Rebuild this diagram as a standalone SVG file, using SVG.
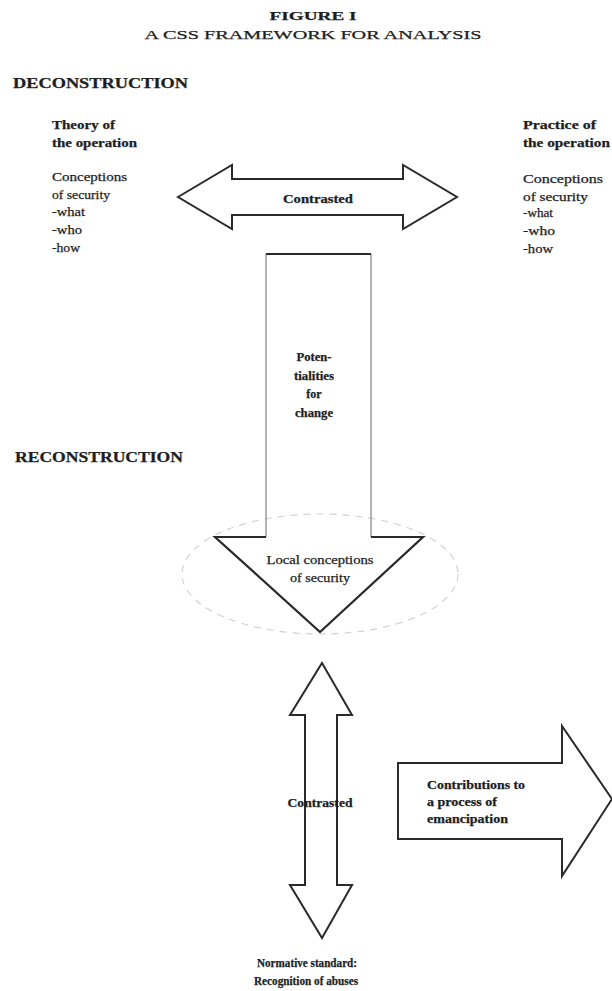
<svg xmlns="http://www.w3.org/2000/svg" width="612" height="991" viewBox="0 0 612 991">
<style>
text{font-family:"Liberation Serif","DejaVu Serif",serif;fill:#1e1e1e;stroke:#1e1e1e;stroke-width:0.25}
.title{font-size:13px;text-anchor:middle}
.sec{font-size:14px;font-weight:bold}
.hd{font-size:13px;font-weight:bold}
.tx{font-size:12.5px}
.lbl{font-size:12px;text-anchor:middle}
.b{font-weight:bold}
.arrow{fill:#fff;stroke:#2a2a2a;stroke-width:2;stroke-linejoin:miter}
.faint{fill:none;stroke:#8a8a8a;stroke-width:1.3}
.dark{fill:none;stroke:#2a2a2a;stroke-width:2.2;stroke-linejoin:miter}
</style>
<rect width="612" height="991" fill="#fff"/>
<g id="title">
<text class="title b" x="313" y="20" textLength="87" lengthAdjust="spacingAndGlyphs">FIGURE I</text>
<text class="title" x="313" y="39" textLength="337" lengthAdjust="spacingAndGlyphs">A CSS FRAMEWORK FOR ANALYSIS</text>
</g>
<g id="deconstruction">
<text class="sec" x="13" y="88" textLength="175" lengthAdjust="spacingAndGlyphs">DECONSTRUCTION</text>
</g>
<g id="reconstruction">
<text class="sec" x="15" y="462" textLength="168" lengthAdjust="spacingAndGlyphs">RECONSTRUCTION</text>
</g>
<g id="theory">
<text class="hd" x="52" y="129" textLength="63" lengthAdjust="spacingAndGlyphs">Theory of</text>
<text class="hd" x="52" y="147" textLength="85" lengthAdjust="spacingAndGlyphs">the operation</text>
<text class="tx" x="52" y="181" textLength="75" lengthAdjust="spacingAndGlyphs">Conceptions</text>
<text class="tx" x="52" y="199" textLength="58" lengthAdjust="spacingAndGlyphs">of security</text>
<text class="tx" x="52" y="216" textLength="33" lengthAdjust="spacingAndGlyphs">-what</text>
<text class="tx" x="52" y="234" textLength="30" lengthAdjust="spacingAndGlyphs">-who</text>
<text class="tx" x="52" y="252" textLength="28" lengthAdjust="spacingAndGlyphs">-how</text>
</g>
<g id="practice">
<text class="hd" x="523" y="129" textLength="73" lengthAdjust="spacingAndGlyphs">Practice of</text>
<text class="hd" x="523" y="147" textLength="87" lengthAdjust="spacingAndGlyphs">the operation</text>
<text class="tx" x="523" y="183" textLength="80" lengthAdjust="spacingAndGlyphs">Conceptions</text>
<text class="tx" x="523" y="201" textLength="65" lengthAdjust="spacingAndGlyphs">of security</text>
<text class="tx" x="523" y="217" textLength="30" lengthAdjust="spacingAndGlyphs">-what</text>
<text class="tx" x="523" y="235" textLength="32" lengthAdjust="spacingAndGlyphs">-who</text>
<text class="tx" x="523" y="253" textLength="30" lengthAdjust="spacingAndGlyphs">-how</text>
</g>
<g id="connectors">
<g id="contrasted-top">
<polygon class="arrow" points="178,197 232,165 232,179 403,179 403,165 457,197 403,229 403,215 232,215 232,229"/>
<text class="lbl b" x="318" y="203" textLength="70" lengthAdjust="spacingAndGlyphs">Contrasted</text>
</g>
<g id="potentialities">
<ellipse cx="320" cy="574" rx="138" ry="60" fill="none" stroke="#d2d2d2" stroke-width="1.2" stroke-dasharray="7 6"/>
<polyline class="faint" points="266,254 266,537"/>
<polyline class="faint" points="371,254 371,537"/>
<polyline class="dark" points="266,254 371,254"/>
<polyline class="dark" points="266,537 215,537 320,632 423,537 371,537"/>
<text class="lbl b" x="314" y="361" textLength="35" lengthAdjust="spacingAndGlyphs">Poten-</text>
<text class="lbl b" x="314" y="380" textLength="40" lengthAdjust="spacingAndGlyphs">tialities</text>
<text class="lbl b" x="314" y="398">for</text>
<text class="lbl b" x="314" y="417" textLength="38" lengthAdjust="spacingAndGlyphs">change</text>
<text class="lbl" x="320" y="564" textLength="107" lengthAdjust="spacingAndGlyphs">Local conceptions</text>
<text class="lbl" x="320" y="582" textLength="60" lengthAdjust="spacingAndGlyphs">of security</text>
</g>
<g id="contrasted-vertical">
<polygon class="arrow" points="322,663 352,715 337,715 337,885 352,885 322,938 290,885 305,885 305,715 290,715"/>
<text class="lbl b" x="320" y="807" textLength="65" lengthAdjust="spacingAndGlyphs">Contrasted</text>
</g>
<g id="contributions">
<polygon class="arrow" points="398,763 562,763 562,726 612,799 562,876 562,839 398,839"/>
<text class="tx b" x="427" y="789" textLength="98" lengthAdjust="spacingAndGlyphs">Contributions to</text>
<text class="tx b" x="427" y="806" textLength="70" lengthAdjust="spacingAndGlyphs">a process of</text>
<text class="tx b" x="427" y="823" textLength="81" lengthAdjust="spacingAndGlyphs">emancipation</text>
</g>
</g>
<g id="normative">
<text class="lbl b" x="307" y="967" textLength="100" lengthAdjust="spacingAndGlyphs">Normative standard:</text>
<text class="lbl b" x="306" y="985" textLength="104" lengthAdjust="spacingAndGlyphs">Recognition of abuses</text>
</g>
</svg>
